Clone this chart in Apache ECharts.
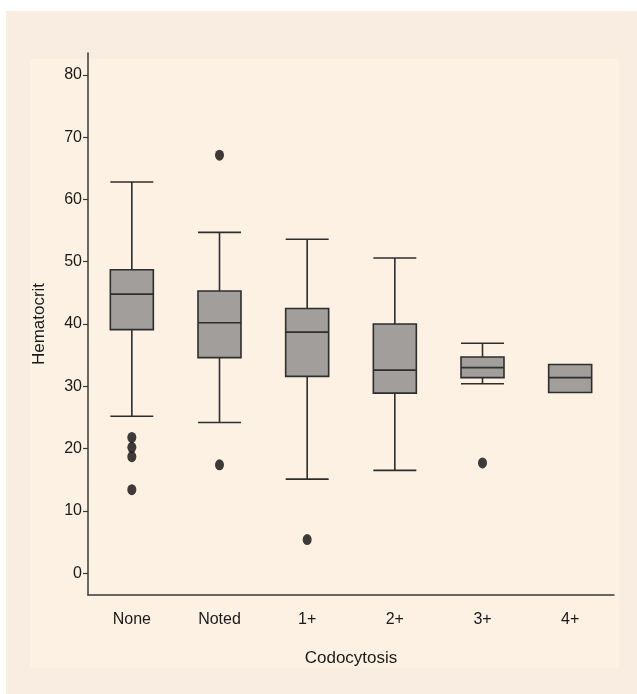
<!DOCTYPE html>
<html>
<head>
<meta charset="utf-8">
<script src="https://cdn.jsdelivr.net/npm/echarts@6/dist/echarts.min.js"></script>
<style>html,body{margin:0;padding:0;background:#fff;}#c{width:637px;height:694px;}</style>
</head>
<body>
<div id="c"></div>
<script>
const categories = ['None', 'Noted', '1+', '2+', '3+', '4+'];
// [lower whisker, Q1, median, Q3, upper whisker]
const boxValues = [
  [25.2, 39.1, 44.8, 48.7, 62.8],
  [24.2, 34.6, 40.2, 45.3, 54.7],
  [15.1, 31.6, 38.7, 42.5, 53.6],
  [16.5, 28.9, 32.6, 40.0, 50.6],
  [30.4, 31.4, 33.0, 34.7, 36.9],
  [29.0, 29.0, 31.4, 33.5, 33.5]
];
// outliers: [category, value]
const outlierValues = [
  ['None', 21.8], ['None', 20.2], ['None', 18.7], ['None', 13.4],
  ['Noted', 67.1], ['Noted', 17.4],
  ['1+', 5.4],
  ['3+', 17.7]
];
const yTickValues = [0, 10, 20, 30, 40, 50, 60, 70, 80];

const font = '"Liberation Sans Narrow", "Liberation Sans", Arial, sans-serif';
const chart = echarts.init(document.getElementById('c'), null, {renderer: 'canvas'});
chart.setOption({
  backgroundColor: '#ffffff',
  animation: false,
  graphic: [
    {type: 'rect', z: -10, silent: true, shape: {x: 6, y: 11, width: 631, height: 683}, style: {fill: '#f9ece0'}},
    {type: 'rect', z: -9, silent: true, shape: {x: 30, y: 59, width: 589, height: 609}, style: {fill: '#fdf1e3'}}
  ],
  grid: {left: 88, right: 23, top: 53, bottom: 99, containLabel: false},
  xAxis: {
    type: 'category',
    data: categories,
    boundaryGap: true,
    axisLine: {show: true, onZero: false, lineStyle: {color: '#3a3a3a', width: 1.5}},
    axisTick: {show: false},
    axisLabel: {color: '#1a1a1a', fontFamily: font, fontSize: 16, margin: 17},
    splitLine: {show: false},
    name: 'Codocytosis',
    nameLocation: 'middle',
    nameGap: 55,
    nameTextStyle: {color: '#1a1a1a', fontFamily: font, fontSize: 17}
  },
  yAxis: {
    type: 'value',
    min: -3.5,
    max: 83.5,
    axisLine: {show: true, lineStyle: {color: '#3a3a3a', width: 1.5}},
    axisTick: {show: true, customValues: yTickValues, length: 5, lineStyle: {color: '#3a3a3a', width: 1.2}},
    axisLabel: {customValues: yTickValues, color: '#1a1a1a', fontFamily: font, fontSize: 16, margin: 6},
    splitLine: {show: false},
    name: 'Hematocrit',
    nameLocation: 'middle',
    nameGap: 40,
    nameTextStyle: {color: '#1a1a1a', fontFamily: font, fontSize: 17}
  },
  series: [
    {
      type: 'boxplot',
      data: boxValues,
      boxWidth: [43, 43],
      itemStyle: {color: '#a19e9b', borderColor: '#2e2e2e', borderWidth: 1.6},
      emphasis: {disabled: true}
    },
    {
      type: 'scatter',
      data: outlierValues,
      symbol: 'circle',
      symbolSize: [9, 11],
      itemStyle: {color: '#0d0d0d'},
      emphasis: {disabled: true}
    }
  ]
});
</script>
</body>
</html>
